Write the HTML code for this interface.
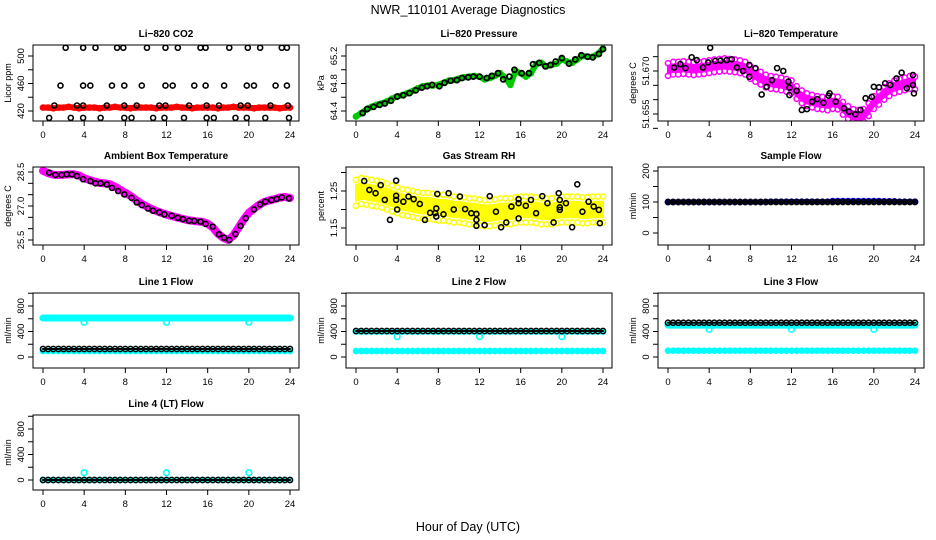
<!DOCTYPE html>
<html><head><meta charset="utf-8"><style>
html,body{margin:0;padding:0;background:#fff;}
svg{display:block;font-family:"Liberation Sans",sans-serif;}
</style></head><body>
<svg id="chart" width="936" height="540" viewBox="0 0 936 540" xmlns="http://www.w3.org/2000/svg">
<rect width="936" height="540" fill="#fff"/>
<text x="468" y="14" text-anchor="middle" font-size="12.5">NWR_110101  Average Diagnostics</text>
<text x="468" y="531" text-anchor="middle" font-size="12.5">Hour of Day (UTC)</text>
</svg>
<script>
// ---- data ----
const xTicks=[0,4,8,12,16,20,24];
// CO2
const co2Red=[425,425,424,425,425,426,425,424,425,425,425,424,425,425,426,425,425,424,425,425,425,425,424,425,425,425,426,425,425,424,425,425,425,425,424,425,425,426,425,425,425,424,425,425,425,425,424,425,425];
const co2BlackH=[2.2,3.9,5.1,7.2,7.8,10.1,11.9,13.1,15.3,15.8,18.1,19.9,21.1,23.2,23.7,1.7,3.9,4.6,6.7,7.9,9.6,11.9,12.6,14.7,15.8,17.6,19.8,20.5,22.6,23.7,1.1,3.3,3.9,6.2,7.9,9.1,11.3,11.9,14.2,15.9,17.1,19.2,19.9,22.1,23.8,0.6,2.7,3.9,5.6,7.9,8.6,10.7,11.8,13.7,15.9,16.6,18.7,19.8,21.6,23.9];
const co2Black=[512,512,512,512,512,512,512,512,512,512,512,512,512,512,512,457,457,457,457,457,457,457,457,457,457,457,457,457,457,457,428,428,428,428,428,428,428,428,428,428,428,428,428,428,428,410,410,410,410,410,410,410,410,410,410,410,410,410,410,410];
// Pressure
const presBlackH=[0.65,1.1,1.7,2.3,2.8,3.4,4.0,4.6,5.2,5.8,6.4,6.9,7.4,8.1,8.6,9.2,9.8,10.3,10.9,11.4,12.0,12.7,13.2,13.8,14.3,14.9,15.4,16.1,16.8,17.2,17.8,18.4,18.9,19.4,20.0,20.7,21.3,21.9,22.5,23.0,23.6,24.0];
const presBlack=[64.37,64.43,64.46,64.49,64.51,64.55,64.61,64.63,64.66,64.7,64.74,64.76,64.78,64.76,64.81,64.84,64.85,64.88,64.89,64.9,64.9,64.88,64.91,64.95,64.86,64.9,65.0,64.95,64.95,65.08,65.1,65.05,65.07,65.12,65.17,65.09,65.15,65.21,65.19,65.18,65.23,65.3];
const presGreen=[64.32,64.37,64.42,64.46,64.49,64.51,64.54,64.58,64.61,64.63,64.66,64.69,64.73,64.76,64.77,64.77,64.78,64.81,64.84,64.85,64.87,64.89,64.9,64.91,64.9,64.86,64.88,64.91,64.95,64.88,64.78,64.98,64.95,64.9,64.95,65.08,65.1,65.05,65.07,65.09,65.15,65.12,65.1,65.15,65.2,65.19,65.19,65.23,65.31];
// Li-820 temperature
const tempBlackH=[0.6,1.2,1.7,2.3,2.8,3.4,3.9,4.1,4.6,5.1,5.7,6.2,6.7,7.3,7.9,7.9,8.5,9.1,9.6,10.1,10.6,11.2,11.7,11.8,11.8,12.5,13.0,13.5,14.0,14.5,15.1,15.6,15.7,16.3,17.1,17.6,18.2,18.7,19.2,19.8,20.0,20.5,21.1,21.6,22.2,22.7,23.2,23.8,23.9,23.8];
const tempBlack=[51.6712,51.6724,51.671,51.6748,51.6738,51.6712,51.673,51.6781,51.6735,51.6736,51.6738,51.6741,51.6712,51.67,51.6721,51.668,51.671,51.6618,51.6645,51.6668,51.671,51.67,51.6663,51.6642,51.6616,51.6631,51.6564,51.6567,51.6593,51.6602,51.6589,51.6614,51.6622,51.6593,51.657,51.6558,51.6549,51.6564,51.6605,51.661,51.6645,51.6643,51.6657,51.6651,51.6674,51.6694,51.664,51.6651,51.6622,51.6686];
const tempMagenta=[51.6705,51.671,51.671,51.6712,51.671,51.6708,51.671,51.6712,51.6715,51.6718,51.672,51.6722,51.672,51.6718,51.6715,51.671,51.6695,51.6685,51.6675,51.6665,51.666,51.6658,51.6655,51.665,51.6645,51.6625,51.661,51.66,51.6595,51.659,51.6588,51.6585,51.659,51.6588,51.657,51.6555,51.6545,51.6542,51.6545,51.6565,51.659,51.6605,51.6622,51.6635,51.6645,51.665,51.6655,51.666,51.6658];
const tempSpread=0.0022;
// Ambient box temperature
const ambBlackH=[0.6,1.2,1.8,2.3,2.8,3.3,3.9,4.6,5.1,5.6,6.2,6.7,7.3,7.9,8.6,9.1,9.6,10.2,10.7,11.3,11.8,12.5,13.1,13.6,14.2,14.7,15.3,15.8,16.5,17.1,17.6,18.1,18.7,19.2,19.7,20.5,21.1,21.6,22.2,22.7,23.2,23.9];
const ambBlack=[28.47,28.37,28.37,28.4,28.4,28.32,28.18,28.1,28.0,28.0,27.95,27.8,27.66,27.51,27.36,27.16,27.04,26.89,26.79,26.72,26.63,26.57,26.48,26.42,26.35,26.34,26.31,26.21,26.09,25.75,25.6,25.5,25.76,26.12,26.46,26.85,27.07,27.19,27.26,27.31,27.38,27.34];
const ambMagenta=[28.55,28.45,28.38,28.37,28.38,28.4,28.4,28.35,28.22,28.15,28.08,28.02,28.0,27.96,27.85,27.72,27.58,27.45,27.28,27.12,27.0,26.88,26.78,26.7,26.62,26.56,26.5,26.44,26.38,26.35,26.32,26.3,26.22,26.05,25.78,25.6,25.5,25.7,26.05,26.4,26.7,26.88,27.05,27.18,27.25,27.3,27.37,27.4,27.35];
// Gas stream RH
const rhBlackH=[0.8,1.3,1.9,2.4,2.8,3.3,3.9,3.9,3.9,4.0,4.6,5.1,5.6,6.2,6.7,7.2,7.7,7.8,7.8,7.9,8.5,9.0,9.5,10.1,10.6,11.2,11.7,11.7,11.7,12.5,13.0,13.6,14.1,14.6,15.1,15.8,15.8,15.8,16.5,17.0,17.5,18.1,18.6,19.2,19.7,19.8,19.8,19.8,20.4,21.0,21.5,22.0,22.6,23.1,23.6,23.7];
const rhBlack=[1.277,1.253,1.244,1.266,1.226,1.172,1.278,1.237,1.226,1.2,1.221,1.235,1.228,1.215,1.172,1.191,1.19,1.203,1.181,1.242,1.187,1.244,1.2,1.235,1.201,1.19,1.188,1.172,1.156,1.158,1.236,1.194,1.152,1.165,1.208,1.176,1.217,1.228,1.21,1.226,1.19,1.236,1.217,1.165,1.244,1.226,1.206,1.199,1.217,1.152,1.268,1.194,1.221,1.208,1.199,1.163];
const rhYellow=[1.245,1.25,1.248,1.245,1.243,1.24,1.235,1.23,1.225,1.22,1.218,1.215,1.212,1.21,1.21,1.208,1.205,1.205,1.203,1.2,1.2,1.198,1.195,1.195,1.192,1.19,1.19,1.192,1.195,1.195,1.195,1.198,1.2,1.2,1.2,1.198,1.195,1.195,1.195,1.198,1.2,1.2,1.2,1.2,1.198,1.198,1.2,1.2,1.2];
const rhSpread=0.035;
// Sample flow
const sampleBlack=[100,100,100,100,100,100,100,100,100,100,100,100,100,100,100,100,100,100,100,100,100,100,100,100,100,100,100,100,100,100,100,100,100,100,100,100,100,100,100,100,100,100,100,100,100,100,100,100,100];
const sampleBlue=[100,100,100,100,100,100,100,100,100,100,100,100,100,100,100,100,100,100,100,100,101,101,101,101,101,101,101,101,101,101,101,101,103,103,103,103,103,103,103,103,103,103,102,102,102,101,101,101,101];
// Line flows
const line1Cyan=[612,612,612,612,612,612,612,612,612,612,612,612,612,612,612,612,612,612,612,612,612,612,612,612,612,612,612,612,612,612,612,612,612,612,612,612,612,612,612,612,612,612,612,612,612,612,612,612,612];
const line1CyanLow=[94,94,94,94,94,94,94,94,94,94,94,94,94,94,94,94,94,94,94,94,94,94,94,94,94,94,94,94,94,94,94,94,94,94,94,94,94,94,94,94,94,94,94,94,94,94,94,94,94];
const line1Black=[125,125,125,125,125,125,125,125,125,125,125,125,125,125,125,125,125,125,125,125,125,125,125,125,125,125,125,125,125,125,125,125,125,125,125,125,125,125,125,125,125,125,125,125,125,125,125,125,125];
const line2Cyan=[400,400,400,400,400,400,400,400,400,400,400,400,400,400,400,400,400,400,400,400,400,400,400,400,400,400,400,400,400,400,400,400,400,400,400,400,400,400,400,400,400,400,400,400,400,400,400,400,400];
const line2CyanLow=[94,94,94,94,94,94,94,94,94,94,94,94,94,94,94,94,94,94,94,94,94,94,94,94,94,94,94,94,94,94,94,94,94,94,94,94,94,94,94,94,94,94,94,94,94,94,94,94,94];
const line2Black=[408,408,408,408,408,408,408,408,408,408,408,408,408,408,408,408,408,408,408,408,408,408,408,408,408,408,408,408,408,408,408,408,408,408,408,408,408,408,408,408,408,408,408,408,408,408,408,408,408];
const line3Cyan=[500,500,500,500,500,500,500,500,500,500,500,500,500,500,500,500,500,500,500,500,500,500,500,500,500,500,500,500,500,500,500,500,500,500,500,500,500,500,500,500,500,500,500,500,500,500,500,500,500];
const line3CyanLow=[99,99,99,99,99,99,99,99,99,99,99,99,99,99,99,99,99,99,99,99,99,99,99,99,99,99,99,99,99,99,99,99,99,99,99,99,99,99,99,99,99,99,99,99,99,99,99,99,99];
const line3Black=[538,538,538,538,538,538,538,538,538,538,538,538,538,538,538,538,538,538,538,538,538,538,538,538,538,538,538,538,538,538,538,538,538,538,538,538,538,538,538,538,538,538,538,538,538,538,538,538,538];
const line4Cyan=[0,0,0,0,0,0,0,0,0,0,0,0,0,0,0,0,0,0,0,0,0,0,0,0,0,0,0,0,0,0,0,0,0,0,0,0,0,0,0,0,0,0,0,0,0,0,0,0,0];
const line4Black=[0,0,0,0,0,0,0,0,0,0,0,0,0,0,0,0,0,0,0,0,0,0,0,0,0,0,0,0,0,0,0,0,0,0,0,0,0,0,0,0,0,0,0,0,0,0,0,0,0];
const outlierH=[4,12,20];
const line1Out=[544,544,544];
const line2Out=[318,318,318];
const line3Out=[434,434,434];
const line4Out=[114,114,114];

// ---- layout ----
const NS="http://www.w3.org/2000/svg";
const svg=document.getElementById('chart');
const BOXL=[33,346,658], BOXW=266;
function mk(tag,attrs,parent){const e=document.createElementNS(NS,tag);for(const k in attrs)e.setAttribute(k,attrs[k]);(parent||svg).appendChild(e);return e;}

function panel(cfg){
  const g=mk('g',{});
  
  
  const L=BOXL[cfg.col], T=cfg.top, B=cfg.bottom;
  const X=h=>L+10+h*247/24;
  const Y=v=>cfg.py1+(v-cfg.v1)*(cfg.py2-cfg.py1)/(cfg.v2-cfg.v1);
  cfg.X=X;cfg.Y=Y;cfg.g=g;
  const t=mk('text',{x:L+BOXW/2,y:T-8,'text-anchor':'middle','font-size':'10','font-weight':'bold'},g);
  t.textContent=cfg.title;
  
  
  const xa=mk('g',{},g);
  
  
  xTicks.forEach(h=>{
    mk('line',{x1:X(h),x2:X(h),y1:B,y2:B+5,stroke:'#000','stroke-width':1},xa);
    const tl=mk('text',{x:X(h),y:B+17,'text-anchor':'middle','font-size':'9.5'},xa);
    tl.textContent=h;
  });
  const ya=mk('g',{},g);
  
  
  cfg.yticks.forEach(v=>{
    mk('line',{x1:L-5,x2:L,y1:Y(v),y2:Y(v),stroke:'#000','stroke-width':1},ya);
  });
  cfg.ylabels.forEach(v=>{
    const tl=mk('text',{x:0,y:0,'text-anchor':'middle','font-size':'9.5',transform:`translate(${L-9},${Y(v)}) rotate(-90)`},ya);
    tl.textContent=cfg.fmt?cfg.fmt(v):v;
  });
  const yt=mk('text',{x:0,y:0,'text-anchor':'middle','font-size':'9',transform:`translate(${L-22},${(T+B)/2}) rotate(-90)`},g);
  yt.textContent=cfg.ytitle;
  
  
  const cp='clip'+cfg.name;
  const cl=mk('clipPath',{id:cp},g);
  mk('rect',{x:L,y:T,width:BOXW,height:B-T},cl);
  cfg.plot=mk('g',{'clip-path':`url(#${cp})`},g);
  cfg.box=()=>{const r=mk('rect',{x:L,y:T,width:BOXW,height:B-T,fill:'none',stroke:'#000','stroke-width':1},g);
    
    };
  return cfg;
}
function halfHours(vals){return vals.map((v,i)=>i*24/(vals.length-1));}
function pts(cfg,hs,vals,color,name,r,sw){
  const g=mk('g',{},cfg.plot);
  
  
  vals.forEach((v,i)=>{
    const c=mk('circle',{cx:cfg.X(hs[i]),cy:cfg.Y(v),r:r||2.5,fill:'none',stroke:color,'stroke-width':sw||1.5},g);
    
    
  });
}
function band(cfg,vals,color,name,w){
  const hs=halfHours(vals);
  const p=mk('polyline',{points:vals.map((v,i)=>cfg.X(hs[i])+','+cfg.Y(v)).join(' '),fill:'none',stroke:color,'stroke-width':w,'stroke-linejoin':'round','stroke-linecap':'round'},cfg.plot);
  
  
  pts(cfg,hs,vals,color,name,2.6,1.5);
}
function cloud(cfg,vals,spread,color,name){
  const hs=halfHours(vals);
  const up=vals.map((v,i)=>cfg.X(hs[i])+','+cfg.Y(v+spread*0.6));
  const dn=vals.map((v,i)=>cfg.X(hs[i])+','+cfg.Y(v-spread*0.6)).reverse();
  const p=mk('polygon',{points:up.concat(dn).join(' '),fill:color,stroke:color,'stroke-width':2,'stroke-linejoin':'round'},cfg.plot);
  
  
  pts(cfg,hs,vals.map(v=>v+spread),color,name+'-upper',2.6,1.5);
  pts(cfg,hs,vals.map(v=>v-spread),color,name+'-lower',2.6,1.5);
}

// ---- panels ----
const flowTicks=[0,200,400,600,800,1000], flowLabels=[0,400,800];
const p1=panel({name:'co2-panel',title:'Li\u2212820 CO2',col:0,top:45,bottom:121,v1:420,py1:111,v2:500,py2:56,yticks:[420,440,460,480,500],ylabels:[420,460,500],ytitle:'Licor ppm'});
band(p1,co2Red,'#ff0000','co2-red',6);
pts(p1,co2BlackH,co2Black,'#000','co2-black',2.5,1.6);
p1.box();

const p2=panel({name:'pressure-panel',title:'Li\u2212820 Pressure',col:1,top:45,bottom:121,v1:64.4,py1:111,v2:65.2,py2:56,yticks:[64.4,64.6,64.8,65.0,65.2],ylabels:[64.4,64.8,65.2],fmt:v=>v.toFixed(1),ytitle:'kPa'});
band(p2,presGreen,'#00cc00','pressure-green',6);
pts(p2,presBlackH,presBlack,'#000','pressure-black',2.5,1.8);
p2.box();

const p3=panel({name:'li820-temp-panel',title:'Li\u2212820 Temperature',col:2,top:45,bottom:121,v1:51.670,py1:71,v2:51.655,py2:114,yticks:[51.675,51.670,51.665,51.660,51.655,51.650],ylabels:[51.670,51.655],fmt:v=>v.toFixed(3),ytitle:'degrees C'});
cloud(p3,tempMagenta,tempSpread,'#ff00ff','temp-magenta');
pts(p3,tempBlackH,tempBlack,'#000','temp-black',2.5,1.6);
p3.box();

const p4=panel({name:'ambient-temp-panel',title:'Ambient Box Temperature',col:0,top:167,bottom:245,v1:28.5,py1:172,v2:25.5,py2:240,yticks:[25.5,26,26.5,27,27.5,28,28.5],ylabels:[25.5,27.0,28.5],fmt:v=>v.toFixed(1),ytitle:'degrees C'});
band(p4,ambMagenta,'#ff00ff','ambient-magenta',8);
pts(p4,ambBlackH,ambBlack,'#000','ambient-black',2.5,1.6);
p4.box();

const p5=panel({name:'rh-panel',title:'Gas Stream RH',col:1,top:167,bottom:245,v1:1.25,py1:191,v2:1.15,py2:228,yticks:[1.15,1.2,1.25,1.3],ylabels:[1.15,1.25],fmt:v=>v.toFixed(2),ytitle:'percent'});
cloud(p5,rhYellow,rhSpread,'#ffff00','rh-yellow');
pts(p5,rhBlackH,rhBlack,'#000','rh-black',2.5,1.6);
p5.box();

const p6=panel({name:'sample-flow-panel',title:'Sample Flow',col:2,top:167,bottom:245,v1:0,py1:233,v2:200,py2:171,yticks:[0,50,100,150,200],ylabels:[0,100,200],ytitle:'ml/min'});
band(p6,sampleBlue,'#0000ff','sample-blue',5);
band(p6,sampleBlack,'#000','sample-black',3);
p6.box();

const rows3={top:293,bottom:368,v1:0,py1:357,v2:800,py2:306,yticks:flowTicks,ylabels:flowLabels,ytitle:'ml/min'};
const p7=panel(Object.assign({name:'line1-flow-panel',title:'Line 1 Flow',col:0},rows3));
band(p7,line1Cyan,'#00ffff','line1-cyan',7);
band(p7,line1CyanLow,'#00ffff','line1-cyan-low',5);
pts(p7,outlierH,line1Out,'#00ffff','line1-outlier',2.8,1.6);
band(p7,line1Black,'#000','line1-black',2);
p7.box();

const p8=panel(Object.assign({name:'line2-flow-panel',title:'Line 2 Flow',col:1},rows3));
band(p8,line2Cyan,'#00ffff','line2-cyan',6);
band(p8,line2CyanLow,'#00ffff','line2-cyan-low',5);
pts(p8,outlierH,line2Out,'#00ffff','line2-outlier',2.8,1.6);
band(p8,line2Black,'#000','line2-black',2);
p8.box();

const p9=panel(Object.assign({name:'line3-flow-panel',title:'Line 3 Flow',col:2},rows3));
band(p9,line3Cyan,'#00ffff','line3-cyan',7);
band(p9,line3CyanLow,'#00ffff','line3-cyan-low',5);
pts(p9,outlierH,line3Out,'#00ffff','line3-outlier',2.8,1.6);
band(p9,line3Black,'#000','line3-black',2);
p9.box();

const p10=panel({name:'line4-flow-panel',title:'Line 4 (LT) Flow',col:0,top:415,bottom:490,v1:0,py1:480,v2:800,py2:429,yticks:flowTicks,ylabels:flowLabels,ytitle:'ml/min'});
band(p10,line4Cyan,'#00ffff','line4-cyan',5);
pts(p10,outlierH,line4Out,'#00ffff','line4-outlier',2.8,1.6);
band(p10,line4Black,'#000','line4-black',2);
p10.box();
</script>
</body></html>
